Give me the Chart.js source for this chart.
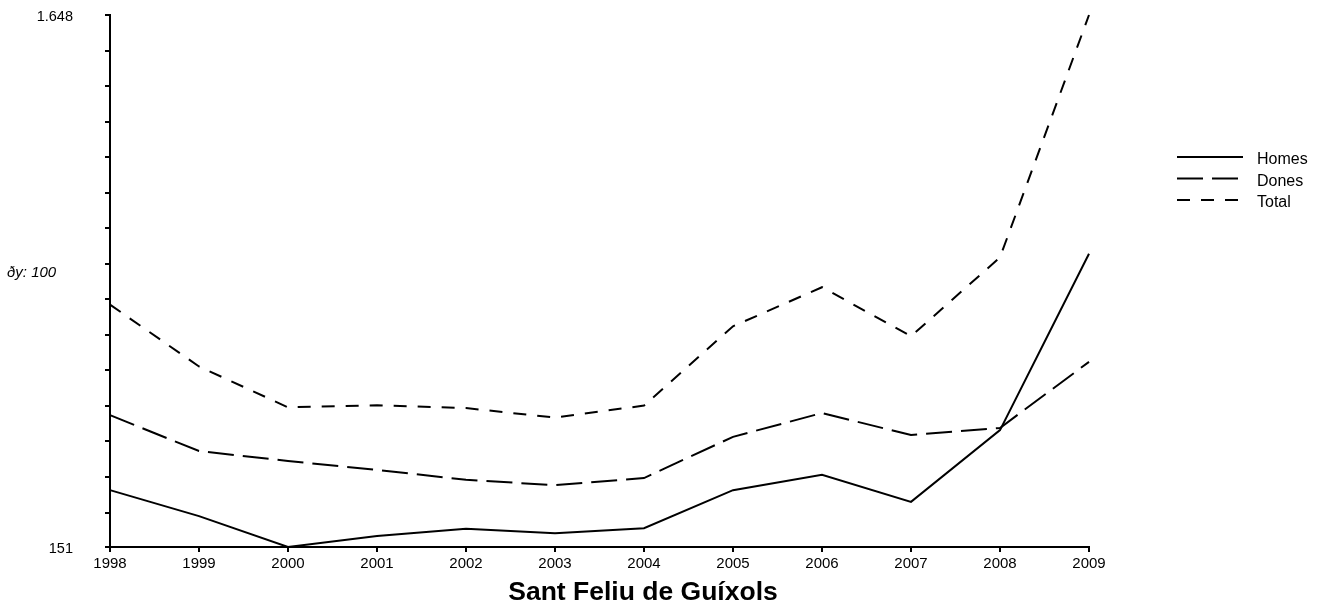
<!DOCTYPE html>
<html>
<head>
<meta charset="utf-8">
<script src="https://cdn.jsdelivr.net/npm/chart.js@4/dist/chart.umd.min.js"></script>
<style>
  body { margin: 0; background: #fff; }
</style>
</head>
<body>
<canvas id="chart" width="1322" height="610"></canvas>
<script>
// Dades
const years = ['1998', '1999', '2000', '2001', '2002', '2003', '2004', '2005', '2006', '2007', '2008', '2009'];
const homes = [311, 238, 151, 182, 202, 190, 204, 311, 354, 278, 480, 976];
const dones = [522, 421, 393, 368, 340, 325, 345, 461, 528, 466, 486, 672];
const total = [833, 659, 544, 550, 542, 515, 549, 772, 882, 744, 966, 1648];
const yTickValues = [151, 248, 348, 448, 548, 648, 748, 848, 948, 1048, 1148, 1248, 1348, 1448, 1548, 1648];
const yMin = 151;
const yMax = 1648;
const titol = 'Sant Feliu de Guíxols';

const FONT = '"Liberation Sans", Arial, sans-serif';
Chart.defaults.font.family = FONT;
Chart.defaults.color = '#000';

// etiquetes de l'eix Y, títol, llegenda i pas de l'eix
const extras = {
  id: 'extras',
  afterDraw(chart) {
    const c = chart.ctx;
    const ys = chart.scales.y;
    const area = chart.chartArea;
    c.save();
    c.fillStyle = '#000';

    // min i max de l'eix Y
    c.font = '14.5px ' + FONT;
    c.textAlign = 'right';
    c.textBaseline = 'middle';
    [yMin, yMax].forEach(v => {
      c.fillText(v.toLocaleString('de-DE'), area.left - 37, ys.getPixelForValue(v) + 1.5);
    });

    c.font = 'italic 15px ' + FONT;
    c.textAlign = 'left';
    c.fillText('ðy: 100', 7, 273);

    // títol a sota
    c.font = 'bold 26.5px ' + FONT;
    c.textAlign = 'center';
    c.fillText(titol, 643, 593);

    // llegenda
    c.font = '16px ' + FONT;
    c.textAlign = 'left';
    chart.data.datasets.forEach((ds, i) => {
      const y = 157 + i * 21.5;
      c.beginPath();
      c.setLineDash(ds.borderDash || []);
      c.lineWidth = 2;
      c.strokeStyle = '#000';
      c.moveTo(1177, y);
      c.lineTo(1243, y);
      c.stroke();
      c.setLineDash([]);
      c.fillText(ds.label, 1257, y + 3);
    });
    c.restore();
  }
};

const ctx = document.getElementById('chart').getContext('2d');
new Chart(ctx, {
  type: 'line',
  data: {
    labels: years,
    datasets: [
      { label: 'Homes', data: homes, borderDash: [] },
      { label: 'Dones', data: dones, borderDash: [26, 9] },
      { label: 'Total', data: total, borderDash: [13, 11] }
    ].map(d => Object.assign({
      borderColor: '#000',
      borderWidth: 2,
      pointRadius: 0,
      tension: 0,
      fill: false,
      clip: false
    }, d))
  },
  options: {
    responsive: false,
    animation: false,
    layout: { padding: { top: 15, right: 233, bottom: 34, left: 0 } },
    plugins: {
      legend: { display: false },
      tooltip: { enabled: false },
      title: { display: false }
    },
    scales: {
      x: {
        offset: false,
        border: { display: true, color: '#000', width: 2 },
        grid: { drawOnChartArea: false, drawTicks: true, tickLength: 5, color: '#000', lineWidth: 2 },
        ticks: { font: { size: 15 }, color: '#000', padding: 3, maxRotation: 0, autoSkip: false }
      },
      y: {
        min: yMin,
        max: yMax,
        afterBuildTicks: scale => { scale.ticks = yTickValues.map(v => ({ value: v })); },
        afterFit: scale => { scale.width = 110; },
        border: { display: true, color: '#000', width: 2 },
        grid: { drawOnChartArea: false, drawTicks: true, tickLength: 5, color: '#000', lineWidth: 2 },
        ticks: { font: { size: 1 }, padding: 0, autoSkip: false, callback: () => '' }
      }
    }
  },
  plugins: [extras]
});
</script>
</body>
</html>
